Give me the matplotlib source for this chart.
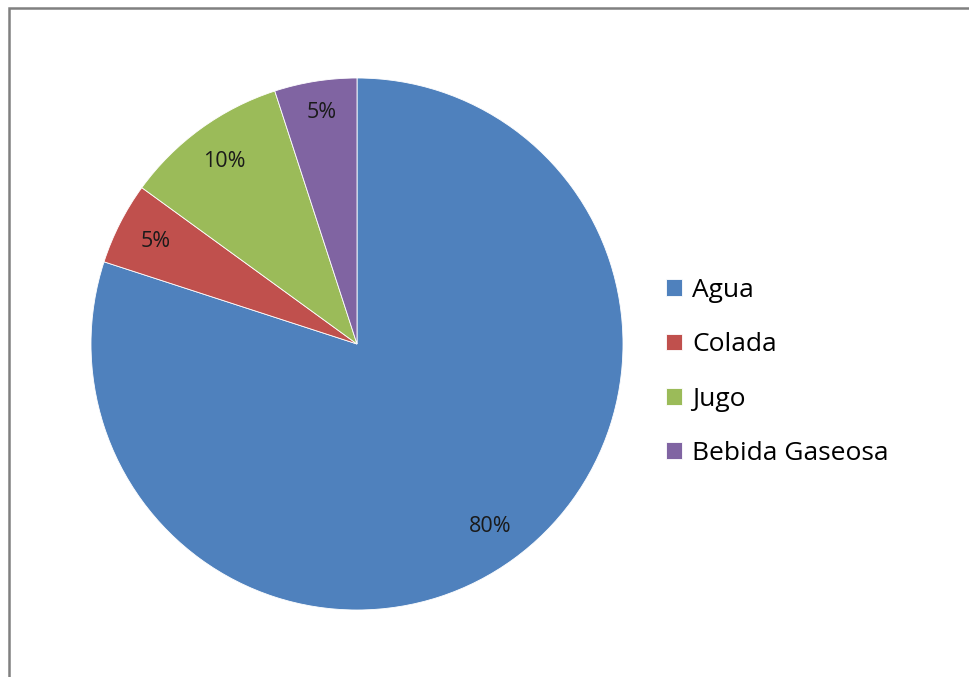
import matplotlib.pyplot as plt
from matplotlib.patches import Rectangle

# bebidas consumidas
categorias = ['Agua', 'Colada', 'Jugo', 'Bebida Gaseosa']
porcentajes = [80, 5, 10, 5]
colores = ['#4F81BD', '#C0504D', '#9BBB59', '#8064A2']

plt.rcParams['font.family'] = ['Open Sans', 'DejaVu Sans']

W, H = 969, 677
fig = plt.figure(figsize=(W / 100, H / 100), dpi=100)

# marco gris del grafico
fig.patches.append(Rectangle((8.5 / W, -0.5), 2, 1.5 - 7.5 / H, transform=fig.transFigure,
                             fill=False, edgecolor='#808080', linewidth=1.8))

cx, cy, r = 357, 344, 266
ax = fig.add_axes([(cx - r) / W, (H - cy - r) / H, 2 * r / W, 2 * r / H])

wedges, textos, autotextos = ax.pie(porcentajes, colors=colores, startangle=90, counterclock=False,
                                    radius=1, autopct='%d%%', pctdistance=0.85,
                                    wedgeprops=dict(edgecolor='white', linewidth=0.6),
                                    textprops=dict(fontsize=15.5, color='#1a1a1a'))
# etiqueta de la gaseosa un poco mas arriba
x, y = autotextos[3].get_position()
autotextos[3].set_position((x, y + 0.03))

ax.set_xlim(-1, 1)
ax.set_ylim(-1, 1)
ax.set_aspect('equal')
ax.axis('off')

fig.legend(wedges, categorias, loc='center left', bbox_to_anchor=(642.5 / W, 1 - 372 / H),
           frameon=False, fontsize=19, handlelength=0.6, handleheight=0.6,
           handletextpad=0.38, labelspacing=1.11)

fig.savefig('out.png', dpi=100)
